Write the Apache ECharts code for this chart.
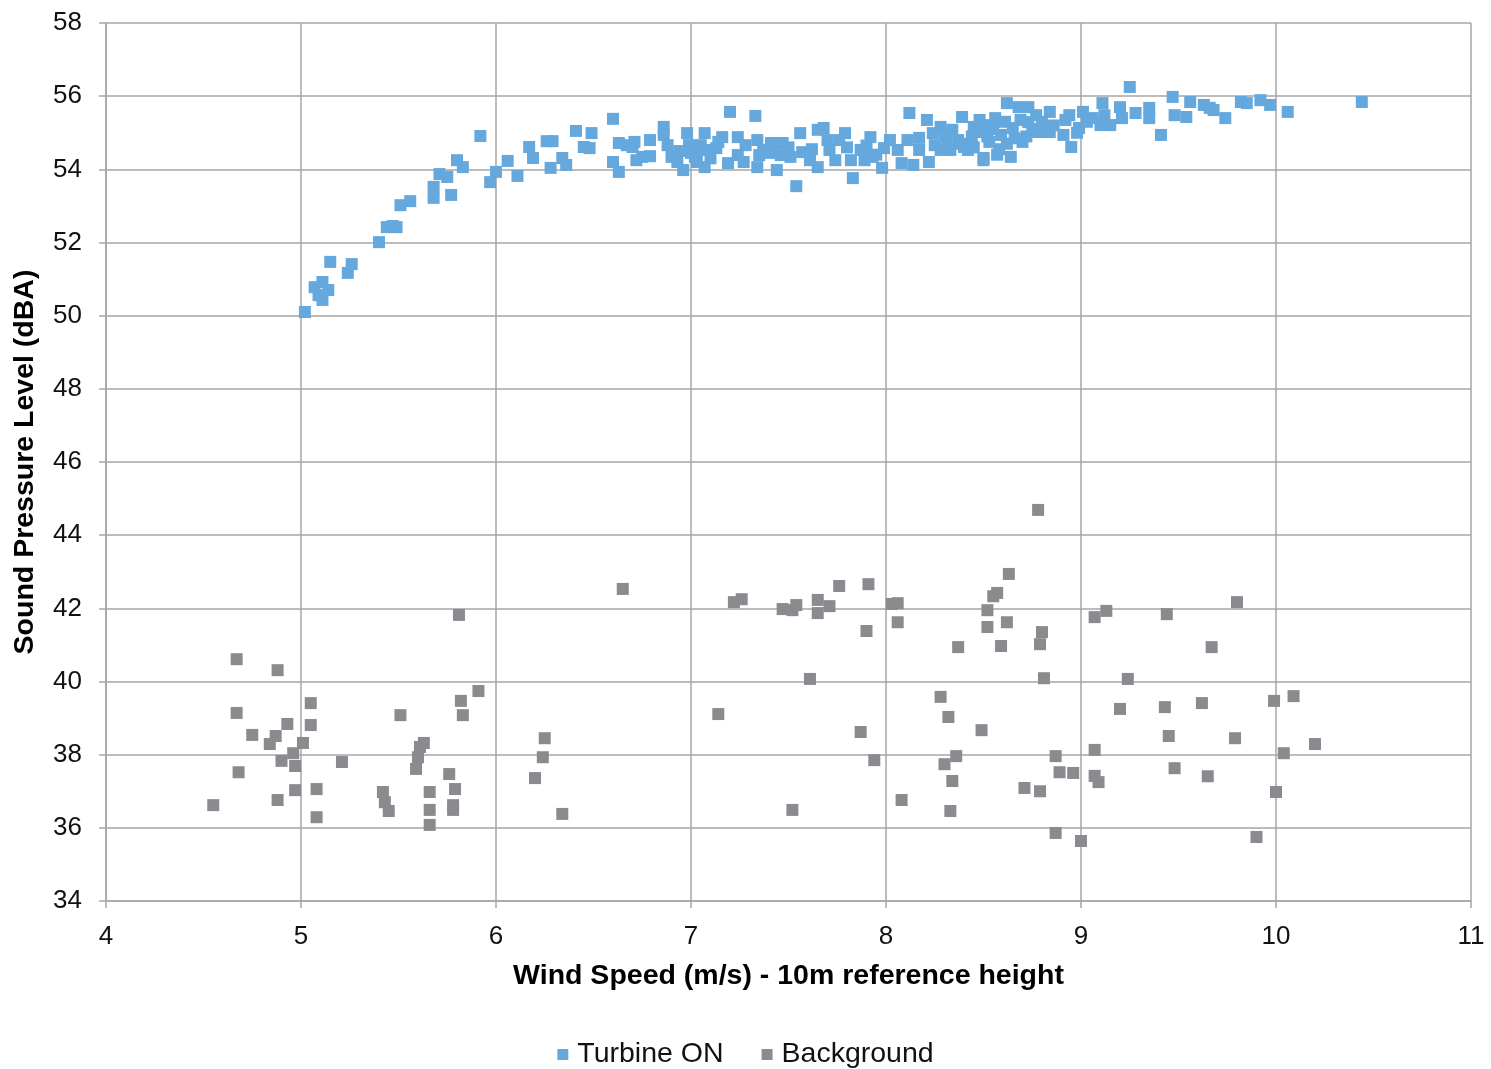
<!DOCTYPE html>
<html><head><meta charset="utf-8">
<script src="https://cdn.jsdelivr.net/npm/echarts@6/dist/echarts.min.js"></script>
<style>html,body{margin:0;padding:0;background:#fff}#c{width:1491px;height:1069px}</style>
</head><body><div id="c"></div>
<script>
const xTitle = 'Wind Speed (m/s) - 10m reference height';
const yTitle = 'Sound Pressure Level (dBA)';
const seriesNames = ['Turbine ON', 'Background'];

const turbineX = [5.02,5.07,5.11,5.14,5.11,5.09,5.15,5.24,5.26,5.40,5.44,5.49,5.47,5.51,5.56,5.68,5.68,5.71,5.75,5.77,5.80,5.83,5.92,5.97,6.00,6.06,6.11,6.17,6.19,6.26,6.29,6.28,6.34,6.36,6.41,6.45,6.48,6.49,6.60,6.60,6.63,6.63,6.67,6.70,6.72,
6.71,6.75,6.79,6.86,6.86,6.88,6.90,6.93,6.96,6.98,6.99,7.02,7.07,7.08,7.07,7.13,7.16,7.19,7.24,7.24,7.20,7.33,7.34,7.34,7.37,7.41,7.44,7.47,7.51,7.56,7.57,7.61,7.54,7.65,7.68,7.65,7.71,7.76,7.79,7.82,7.83,7.87,7.92,7.93,7.98,7.99,8.06,8.08,8.11,8.14,8.17,8.21,8.22,8.24,8.12,8.28,8.31,8.34,8.39,8.40,8.45,8.48,8.50,
6.79,7.05,7.28,7.46,7.35,7.70,7.74,7.89,8.02,8.33,8.37,8.42,8.17,8.28,8.25,
8.47,8.50,8.50,8.53,8.56,8.59,8.62,8.64,8.65,8.68,8.70,8.73,8.73,8.77,8.78,8.84,8.84,8.91,8.94,8.95,8.99,9.01,9.06,9.10,9.11,9.12,9.15,9.20,9.21,9.25,9.28,9.35,9.35,9.41,9.47,9.48,9.54,9.56,9.63,9.66,9.68,9.74,9.82,9.85,9.92,9.97,10.06,10.44,
8.45,8.52,8.55,8.58,8.61,8.66,8.69,8.72,8.75,8.57,8.44,8.38,8.30,8.62,8.80,8.86,8.92,8.98,9.03,
7.00,7.10,7.14,7.03,6.94,7.27,7.40,7.50,7.62,7.80,7.90,7.95];
const turbineY = [50.10,50.78,50.92,50.70,50.43,50.56,51.47,51.17,51.41,52.01,52.42,52.42,52.45,53.02,53.13,53.52,53.22,53.87,53.79,53.30,54.25,54.06,54.91,53.65,53.93,54.23,53.82,54.61,54.31,54.77,54.77,54.04,54.31,54.12,55.05,54.61,54.58,54.99,55.38,54.20,53.93,54.72,54.66,54.61,54.25,
54.75,54.34,54.36,55.16,54.94,54.66,54.34,54.20,53.98,54.99,54.66,54.34,54.99,54.53,54.06,54.58,54.88,54.17,54.39,54.88,55.57,55.46,54.80,54.06,54.53,54.72,53.98,54.72,54.34,54.99,54.47,54.25,53.54,55.08,55.13,54.06,54.53,54.80,54.99,54.25,53.76,54.53,54.88,54.34,54.04,54.58,54.53,54.17,54.80,54.12,54.86,55.35,54.20,54.99,55.54,55.16,54.80,55.08,55.43,54.61,55.16,55.35,54.25,
54.80,54.66,54.66,54.39,54.39,54.80,54.25,54.25,54.80,54.53,54.80,54.53,54.53,54.53,54.66,
55.02,55.21,54.31,54.75,55.40,54.94,55.81,54.34,55.13,55.70,54.75,55.70,55.29,55.48,55.02,55.57,55.02,54.94,55.48,54.61,55.13,55.57,55.40,55.21,55.81,55.48,55.21,55.70,55.40,56.25,55.54,55.68,55.40,54.94,55.98,55.48,55.43,55.84,55.76,55.68,55.62,55.40,55.84,55.81,55.89,55.76,55.57,55.84,
54.60,54.90,55.10,54.55,55.30,54.85,55.35,54.90,55.10,54.40,54.90,54.70,54.95,54.70,55.30,55.20,55.35,55.00,55.30,
54.45,54.30,54.75,54.20,54.50,54.20,54.45,54.60,54.55,54.60,54.65,54.40];

const backgroundX = [4.55,4.67,4.67,4.68,4.75,4.84,4.88,4.87,4.88,4.90,4.93,4.96,4.97,4.97,5.01,5.05,5.05,5.08,5.08,5.21,5.42,5.43,5.45,5.51,5.59,5.60,5.61,5.63,5.66,5.66,5.66,5.76,5.79,5.78,5.78,5.81,5.82,5.83,5.91,6.20,6.24,6.25,6.34,
6.65,7.14,7.22,7.26,7.47,7.52,7.54,7.52,7.61,7.65,7.65,7.71,7.76,7.91,7.90,7.87,7.94,8.03,8.06,8.06,8.08,8.28,8.30,8.32,8.34,8.33,8.36,8.37,8.49,8.52,8.52,8.55,8.57,8.59,8.62,8.63,8.78,8.71,8.79,8.80,8.79,8.81,8.87,8.89,8.96,8.87,9.00,9.07,9.07,9.09,9.07,9.13,9.24,9.20,9.44,9.43,9.45,9.48,9.62,9.65,9.67,9.80,9.79,9.99,10.09,10.20,10.04,10.00,9.90];
const backgroundY = [36.62,40.61,39.14,37.52,38.54,38.29,40.31,38.51,36.76,37.83,38.84,38.04,37.69,37.03,38.32,39.41,38.81,37.06,36.29,37.80,36.98,36.70,36.46,39.08,37.61,37.93,38.21,38.32,36.98,36.49,36.08,37.47,37.06,36.62,36.49,41.82,39.47,39.08,39.74,37.36,37.93,38.45,36.38,
42.53,39.11,42.17,42.25,41.98,41.95,42.09,36.49,40.07,42.23,41.87,42.06,42.61,42.66,41.38,38.62,37.85,42.12,42.14,41.62,36.76,39.58,37.74,39.03,37.28,36.46,37.96,40.94,38.67,41.95,41.49,42.33,42.42,40.97,41.62,42.94,44.69,37.09,37.00,41.35,41.02,40.09,37.96,37.52,37.50,35.86,35.64,38.13,37.42,37.25,41.76,41.93,40.07,39.25,41.84,39.30,38.51,37.63,39.41,37.41,40.94,42.17,38.45,39.47,39.60,38.29,38.04,36.98,35.75];

const xTicks = [4,5,6,7,8,9,10,11];
const yTicks = [34,36,38,40,42,44,46,48,50,52,54,56,58];

const zip = (a, b) => a.map((v, i) => [v, b[i]]);
const gridColor = '#A6A6A6';
const font = '"Liberation Sans", Arial, sans-serif';

const chart = echarts.init(document.getElementById('c'), null, {renderer: 'canvas'});
chart.setOption({
  animation: false,
  backgroundColor: '#fff',
  grid: {left: 106, right: 20, top: 23, bottom: 168, containLabel: false},
  xAxis: {
    type: 'value', min: xTicks[0], max: xTicks[xTicks.length - 1], interval: 1,
    name: xTitle, nameLocation: 'middle', nameGap: 61,
    nameTextStyle: {fontFamily: font, fontSize: 28.5, fontWeight: 'bold', color: '#000'},
    axisLine: {show: true, lineStyle: {color: gridColor, width: 1.5}},
    axisTick: {show: true, length: 7, lineStyle: {color: gridColor, width: 1.5}},
    axisLabel: {fontFamily: font, fontSize: 26, color: '#111', margin: 23},
    splitLine: {show: true, lineStyle: {color: gridColor, width: 1.5}}
  },
  yAxis: {
    type: 'value', min: yTicks[0], max: yTicks[yTicks.length - 1], interval: 2,
    name: yTitle, nameLocation: 'middle', nameGap: 66, nameRotate: 90,
    nameTextStyle: {fontFamily: font, fontSize: 28.5, fontWeight: 'bold', color: '#000'},
    axisLine: {show: true, lineStyle: {color: gridColor, width: 1.5}},
    axisTick: {show: true, length: 7, lineStyle: {color: gridColor, width: 1.5}},
    axisLabel: {fontFamily: font, fontSize: 26, color: '#111', margin: 24},
    splitLine: {show: true, lineStyle: {color: gridColor, width: 1.5}}
  },
  legend: {
    top: 1035, left: 'center', itemWidth: 11, itemHeight: 11, itemGap: 38, icon: 'rect',
    textStyle: {fontFamily: font, fontSize: 28.5, color: '#111', padding: [0, 0, 0, 4]},
    data: seriesNames
  },
  series: [
    {name: seriesNames[0], type: 'scatter', symbol: 'rect', symbolSize: 12,
     itemStyle: {color: '#64A8DD', opacity: 1}, data: zip(turbineX, turbineY)},
    {name: seriesNames[1], type: 'scatter', symbol: 'rect', symbolSize: 12,
     itemStyle: {color: '#8B8B8F', opacity: 1}, data: zip(backgroundX, backgroundY)}
  ]
});
</script></body></html>
